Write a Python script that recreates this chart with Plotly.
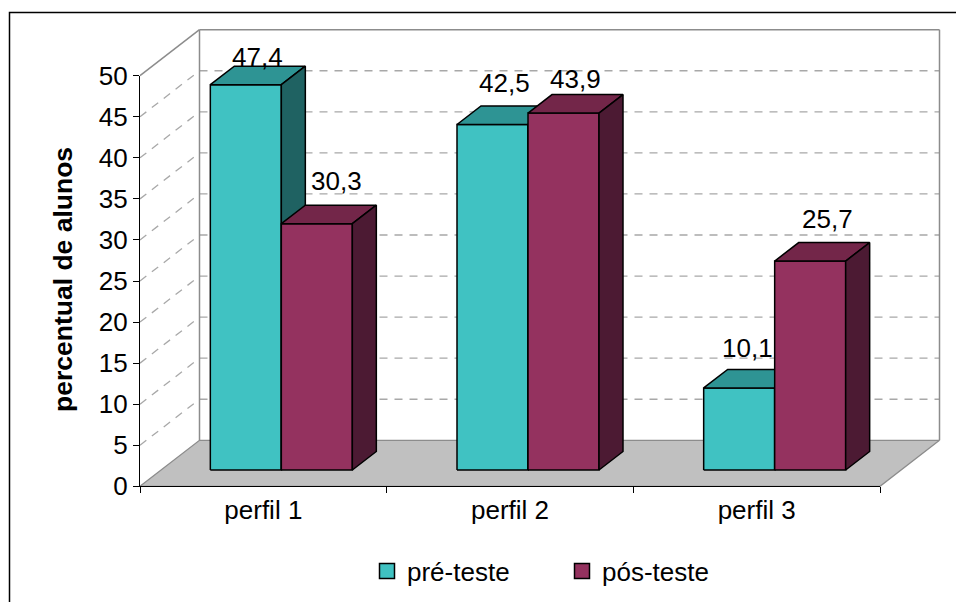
import plotly.graph_objects as go

# ---------------- data ----------------
categories = ["perfil 1", "perfil 2", "perfil 3"]
pre_teste = [47.4, 42.5, 10.1]
pos_teste = [30.3, 43.9, 25.7]
series_names = ["pré-teste", "pós-teste"]
y_tick_values = list(range(0, 51, 5))
y_title = "percentual de alunos"

# ---------------- style / geometry constants ----------------
W, H = 956, 602
FONT = "Liberation Sans, Arial, sans-serif"
PRE_COLORS = dict(front="#40C2C2", top="#2E9494", side="#1F6262")
POS_COLORS = dict(front="#94325F", top="#732649", side="#4C1A33")
GRID_COLOR = "#A8A8A8"
WALL_EDGE = "#8C8C8C"
FLOOR_FILL = "#C0C0C0"

X0_PX, X1_PX = 140, 880          # front edge of the floor (pixels)
Y0_PX, Y50_PX = 486.3, 75.7      # value 0 and 50 on the front axis (pixels)
ncat = len(categories)
PX_U = (X1_PX - X0_PX) / ncat    # pixels per category unit
PX_V = (Y0_PX - Y50_PX) / 50.0   # pixels per value unit
XR = [-0.5 - X0_PX / PX_U, -0.5 + (W - X0_PX) / PX_U]
YR = [-(H - Y0_PX) / PX_V, Y0_PX / PX_V]

WALL_DX, WALL_DY = 59.5 / PX_U, 46.0 / PX_V      # wall depth offset
BAR_FX, BAR_FY = 18.0 / PX_U, 16.3 / PX_V        # bar front-face offset
BAR_BX, BAR_BY = 24.0 / PX_U, 18.5 / PX_V        # bar depth
BAR_W = 71.0 / PX_U
BAR_VSCALE = 8.13 / PX_V
label_lift = [[18, 33], [32, 25], [31, 33]]      # px above top face centre
label_nudge = [[0, 8], [0, 0], [-4, 5]]          # px sideways

U_L, U_R = -0.5, ncat - 0.5
V_TOP = y_tick_values[-1]


def proj(u, v, d):
    return u + d * WALL_DX, v + d * WALL_DY


fig = go.Figure()


def poly(pts, fill, line_color, line_width=1.5, dash=None):
    xs = [p[0] for p in pts] + [pts[0][0]]
    ys = [p[1] for p in pts] + [pts[0][1]]
    fig.add_trace(go.Scatter(
        x=xs, y=ys, mode="lines", fill="toself" if fill else None,
        fillcolor=fill, line=dict(color=line_color, width=line_width, dash=dash),
        hoverinfo="skip", showlegend=False, xaxis="x", yaxis="y"))


def polyline(segs, color, width, dash=None):
    xs, ys = [], []
    for a, b in segs:
        xs += [a[0], b[0], None]
        ys += [a[1], b[1], None]
    fig.add_trace(go.Scatter(
        x=xs, y=ys, mode="lines", line=dict(color=color, width=width, dash=dash),
        hoverinfo="skip", showlegend=False, xaxis="x", yaxis="y"))


# back-wall gridlines and side-wall gridlines (dashed)
grid_vals = y_tick_values[1:-1]
polyline([(proj(U_L, v, 1), proj(U_R, v, 1)) for v in grid_vals], GRID_COLOR, 1.3, "8px,7px")
polyline([(proj(U_L, v, 0), proj(U_L, v, 1)) for v in grid_vals], GRID_COLOR, 1.3, "8px,7px")

# wall edges
polyline([
    (proj(U_L, 0, 1), proj(U_L, V_TOP, 1)),
    (proj(U_L, V_TOP, 1), proj(U_R, V_TOP, 1)),
    (proj(U_R, V_TOP, 1), proj(U_R, 0, 1)),
    (proj(U_L, V_TOP, 0), proj(U_L, V_TOP, 1)),
], WALL_EDGE, 1.5)

# floor
poly([proj(U_L, 0, 0), proj(U_R, 0, 0), proj(U_R, 0, 1), proj(U_L, 0, 1)],
     FLOOR_FILL, WALL_EDGE, 1.3)


def bar(ul, ur, value, colors):
    b = BAR_FY
    t = BAR_FY + value * BAR_VSCALE
    poly([(ul, b), (ur, b), (ur, t), (ul, t)], colors["front"], "black")
    poly([(ul, t), (ur, t), (ur + BAR_BX, t + BAR_BY), (ul + BAR_BX, t + BAR_BY)],
         colors["top"], "black")
    poly([(ur, b), (ur + BAR_BX, b + BAR_BY), (ur + BAR_BX, t + BAR_BY), (ur, t)],
         colors["side"], "black")
    return (ul + ur) / 2 + BAR_BX / 2, t + BAR_BY / 2


def fmt(v):
    return f"{v:.1f}".replace(".", ",")


annotations = []
for i in range(ncat):
    c = i + BAR_FX
    for k, (vals, cols, ul, ur) in enumerate([
            (pre_teste, PRE_COLORS, c - BAR_W, c),
            (pos_teste, POS_COLORS, c, c + BAR_W)]):
        cx, cy = bar(ul, ur, vals[i], cols)
        annotations.append(dict(
            x=cx, y=cy, xref="x", yref="y", text=fmt(vals[i]), showarrow=False,
            yshift=label_lift[i][k], xshift=label_nudge[i][k],
            yanchor="middle", xanchor="center",
            font=dict(family=FONT, size=26, color="black")))

# visible axes (front plane): invisible trace to carry the categories
fig.add_trace(go.Scatter(x=categories, y=pre_teste, mode="markers",
                         marker=dict(opacity=0), hoverinfo="skip",
                         showlegend=False, xaxis="x2", yaxis="y2"))

# legend entries
for name, cols in zip(series_names, [PRE_COLORS, POS_COLORS]):
    fig.add_trace(go.Scatter(
        x=[None], y=[None], mode="markers", name=name,
        marker=dict(symbol="square", size=15, color=cols["front"],
                    line=dict(color="black", width=1.5)),
        xaxis="x2", yaxis="y2"))

annotations.append(dict(
    x=63 / W, y=(H - 280) / H, xref="paper", yref="paper", text=f"<b>{y_title}</b>",
    textangle=-90, showarrow=False, xanchor="center", yanchor="middle",
    font=dict(family=FONT, size=26.5, color="black")))

fig.update_layout(
    template="none",
    width=W, height=H,
    margin=dict(l=0, r=0, t=0, b=0, pad=0),
    paper_bgcolor="white", plot_bgcolor="rgba(0,0,0,0)",
    font=dict(family=FONT, size=26, color="black"),
    showlegend=True,
    xaxis=dict(domain=[0, 1], range=XR, visible=False, fixedrange=True),
    yaxis=dict(domain=[0, 1], range=YR, visible=False, fixedrange=True),
    xaxis2=dict(domain=[X0_PX / W, X1_PX / W], anchor="y2", type="category",
                categoryorder="array", categoryarray=categories,
                range=[-0.5, ncat - 0.5], tickson="boundaries",
                ticks="outside", ticklen=6, tickwidth=1.3, tickcolor="black",
                showline=True, linecolor="black", linewidth=1.3,
                showgrid=False, zeroline=False, automargin=False,
                tickfont=dict(family=FONT, size=26, color="black"), fixedrange=True),
    yaxis2=dict(domain=[(H - Y0_PX) / H, (H - Y50_PX) / H], anchor="x2",
                range=[0, V_TOP], tickvals=y_tick_values,
                ticks="outside", ticklen=6, tickwidth=1.3, tickcolor="black",
                showline=True, linecolor="black", linewidth=1.3,
                showgrid=False, zeroline=False, automargin=False,
                tickfont=dict(family=FONT, size=26, color="black"), fixedrange=True),
    legend=dict(orientation="h", x=367 / W, y=(H - 571) / H, xanchor="left",
                yanchor="middle", entrywidth=150, entrywidthmode="pixels",
                font=dict(family=FONT, size=26, color="black"),
                bgcolor="rgba(0,0,0,0)", borderwidth=0),
    annotations=annotations,
    shapes=[dict(type="rect", xref="paper", yref="paper",
                 x0=9.5 / W, x1=1.2, y0=-0.2, y1=(H - 12.5) / H,
                 line=dict(color="black", width=1.5), layer="above")],
)

fig.write_html("out.html", config={"displayModeBar": False},
               post_script="document.body.style.margin='0';document.body.style.overflow='hidden';")
